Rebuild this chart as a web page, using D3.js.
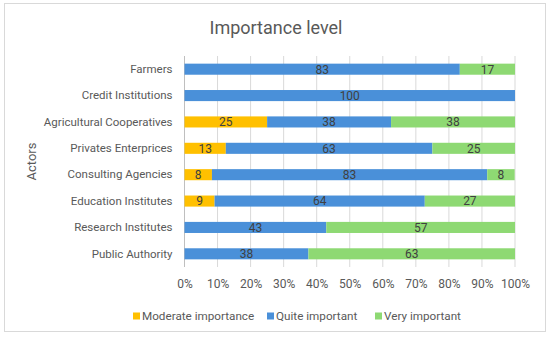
<!DOCTYPE html>
<html>
<head>
<meta charset="utf-8">
<script src="https://cdn.jsdelivr.net/npm/d3@7"></script>
<style>
  html, body { margin: 0; padding: 0; background: #fff; }
  svg { display: block; font-family: Roboto, "Noto Sans", sans-serif; }
</style>
</head>
<body>
<script>
const actors = [
  "Farmers",
  "Credit Institutions",
  "Agricultural Cooperatives",
  "Privates Enterprices",
  "Consulting Agencies",
  "Education Institutes",
  "Research Institutes",
  "Public Authority",
];
const moderate = [0, 0, 25, 12.5, 8.3, 9.1, 0, 0];
const quite = [83.3, 100, 37.5, 62.5, 83.3, 63.6, 42.9, 37.5];
const very = [16.7, 0, 37.5, 25, 8.3, 27.3, 57.1, 62.5];
const seriesNames = ["Moderate importance", "Quite important", "Very important"];
const ticks = [0, 10, 20, 30, 40, 50, 60, 70, 80, 90, 100];

const colors = ["#FFC000", "#4A90D9", "#8ED973"];
const width = 550;
const height = 339;
const margin = { left: 184.5, right: 35, top: 56, bottom: 72 };

const svg = d3
  .select("body")
  .append("svg")
  .attr("width", width)
  .attr("height", height);

// chart frame
svg
  .append("rect")
  .attr("x", 4.5)
  .attr("y", 3.5)
  .attr("width", 541)
  .attr("height", 328)
  .attr("fill", "#fff")
  .attr("stroke", "#d9d9d9");

const x = d3
  .scaleLinear()
  .domain([0, 100])
  .range([margin.left, width - margin.right]);

const y = d3
  .scaleBand()
  .domain(actors)
  .range([margin.top, height - margin.bottom])
  .paddingInner(0.58)
  .paddingOuter(0.29);

// gridlines
svg
  .append("g")
  .selectAll("line")
  .data(ticks)
  .enter()
  .append("line")
  .attr("x1", (d) => x(d))
  .attr("x2", (d) => x(d))
  .attr("y1", margin.top)
  .attr("y2", height - margin.bottom)
  .attr("stroke", (d) => (d === 0 ? "#bfbfbf" : "#d9d9d9"))
  .attr("stroke-width", 1);

const table = actors.map((a, i) => ({
  actor: a,
  moderate: moderate[i],
  quite: quite[i],
  very: very[i],
}));
const stack = d3.stack().keys(["moderate", "quite", "very"])(table);

const layers = svg
  .append("g")
  .selectAll("g")
  .data(stack)
  .enter()
  .append("g")
  .attr("fill", (_, i) => colors[i]);

layers
  .selectAll("rect")
  .data((d) => d)
  .enter()
  .append("rect")
  .attr("x", (d) => x(d[0]))
  .attr("width", (d) => x(d[1]) - x(d[0]))
  .attr("y", (d) => y(d.data.actor))
  .attr("height", y.bandwidth());

layers
  .selectAll("text")
  .data((d) => d.filter((s) => s[1] - s[0] > 0))
  .enter()
  .append("text")
  .attr("x", (d) => (x(d[0]) + x(d[1])) / 2)
  .attr("y", (d) => y(d.data.actor) + y.bandwidth() / 2)
  .attr("dy", "0.36em")
  .attr("text-anchor", "middle")
  .attr("font-size", 12)
  .attr("fill", "#404040")
  .text((d) => Math.round(d[1] - d[0]));

// category axis
const yAxis = svg
  .append("g")
  .attr("transform", `translate(${margin.left - 12}, 0)`)
  .call(d3.axisLeft(y).tickSize(0).tickPadding(0));
yAxis.select(".domain").remove();
yAxis
  .selectAll("text")
  .attr("font-size", 11.5)
  .attr("font-family", "Roboto, sans-serif")
  .attr("fill", "#595959");

// value axis
const xAxis = svg
  .append("g")
  .attr("transform", `translate(0, ${height - margin.bottom + 9})`)
  .call(
    d3
      .axisBottom(x)
      .tickValues(ticks)
      .tickSize(0)
      .tickFormat((d) => d + "%")
  );
xAxis.select(".domain").remove();
xAxis
  .selectAll("text")
  .attr("font-size", 12)
  .attr("font-family", "Roboto, sans-serif")
  .attr("fill", "#595959");

// title
svg
  .append("text")
  .attr("x", 276)
  .attr("y", 34)
  .attr("text-anchor", "middle")
  .attr("font-size", 18)
  .attr("fill", "#595959")
  .text("Importance level");

// axis title
svg
  .append("text")
  .attr("transform", `translate(36, ${(margin.top + height - margin.bottom) / 2}) rotate(-90)`)
  .attr("text-anchor", "middle")
  .attr("font-size", 13)
  .attr("fill", "#595959")
  .text("Actors");

// legend
const legendX = [133, 267, 375];
const legend = svg
  .append("g")
  .selectAll("g")
  .data(seriesNames)
  .enter()
  .append("g")
  .attr("transform", (_, i) => `translate(${legendX[i]}, 316)`);
legend
  .append("rect")
  .attr("x", 0)
  .attr("y", -3.5)
  .attr("width", 7)
  .attr("height", 7)
  .attr("fill", (_, i) => colors[i]);
legend
  .append("text")
  .attr("x", 9)
  .attr("dy", "0.36em")
  .attr("font-size", 11.7)
  .attr("fill", "#595959")
  .text((d) => d);
</script>
</body>
</html>
